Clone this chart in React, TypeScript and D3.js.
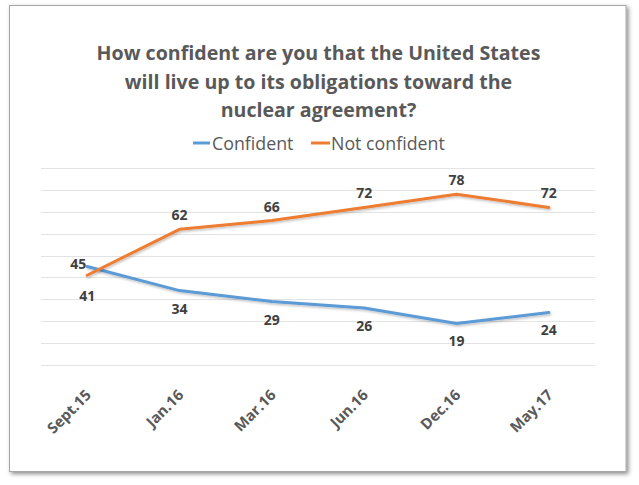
import React from "react";
import * as d3 from "d3";

const categories = ["Sept.15", "Jan.16", "Mar.16", "Jun.16", "Dec.16", "May.17"];
const confident = [45, 34, 29, 26, 19, 24];
const notConfident = [41, 62, 66, 72, 78, 72];
const yTicks = [0, 10, 20, 30, 40, 50, 60, 70, 80, 90];
const titleLines = [
  "How confident are you that the United States",
  "will live up to its obligations toward the",
  "nuclear agreement?",
];
const seriesNames = ["Confident", "Not confident"];
// label placement per point
const confidentPlacement = ["left", "below", "below", "below", "below", "below"];
const notConfidentPlacement = ["below", "above", "above", "above", "above", "above"];

const W = 639;
const H = 485;
const FONT = "'Open Sans', Lato, sans-serif";
const BLUE = "#5B9BD5";
const ORANGE = "#ED7D31";

export default function App() {
  const x = d3.scaleBand<string>().domain(categories).range([41, 595]).padding(0);
  const y = d3.scaleLinear().domain([0, 90]).range([365, 168]);
  const cx = (c: string) => (x(c) as number) + x.bandwidth() / 2;

  const line = d3
    .line<number>()
    .x((_, i) => cx(categories[i]))
    .y((d) => y(d));

  const labelPos = (i: number, v: number, place: string) => {
    const px = cx(categories[i]);
    const py = y(v);
    if (place === "above") return [px, py - 14.5];
    if (place === "below") return [px, py + (i === 0 ? 20 : 17.5)];
    return [px - 9, py - 3.5];
  };

  const series = [
    { name: seriesNames[0], data: confident, color: BLUE, place: confidentPlacement },
    { name: seriesNames[1], data: notConfident, color: ORANGE, place: notConfidentPlacement },
  ];

  return (
    <svg
      width={W}
      height={H}
      style={{ position: "absolute", left: 0, top: 0, background: "#fff" }}
      fontFamily={FONT}
    >
      <defs>
        <filter id="frameShadow" x="-5%" y="-5%" width="110%" height="110%">
          <feDropShadow dx="2" dy="2" stdDeviation="2" floodColor="#000" floodOpacity="0.45" />
        </filter>
        <filter id="lineShadow" x="-5%" y="-20%" width="110%" height="140%">
          <feDropShadow dx="1" dy="1.5" stdDeviation="1" floodColor="#000" floodOpacity="0.25" />
        </filter>
      </defs>
      <rect x={0} y={0} width={W} height={H} fill="#fff" />
      <rect
        x={9.5}
        y={5.5}
        width={616.5}
        height={466}
        fill="#fff"
        stroke="#a6a6a6"
        strokeWidth={1}
        filter="url(#frameShadow)"
      />

      {/* title */}
      {titleLines.map((t, i) => (
        <text
          key={i}
          x={318.5}
          y={60 + i * 28.5}
          textAnchor="middle"
          fontSize={19.6}
          fontWeight="bold"
          fill="#595959"
        >
          {t}
        </text>
      ))}

      {/* legend */}
      <line x1={193} x2={210} y1={143} y2={143} stroke={BLUE} strokeWidth={3} />
      <text x={212} y={149.5} fontSize={17.8} fill="#595959">
        {series[0].name}
      </text>
      <line x1={311} x2={330} y1={143} y2={143} stroke={ORANGE} strokeWidth={3} />
      <text x={331} y={149.5} fontSize={17.8} fill="#595959">
        {series[1].name}
      </text>

      {/* gridlines */}
      {yTicks.map((t) => (
        <line
          key={t}
          x1={41}
          x2={595}
          y1={Math.round(y(t)) + 0.5}
          y2={Math.round(y(t)) + 0.5}
          stroke="#e3e3e3"
          strokeWidth={1}
        />
      ))}

      {/* lines */}
      {series.map((s) => (
        <path
          key={s.name}
          d={line(s.data) as string}
          fill="none"
          stroke={s.color}
          strokeWidth={3}
          strokeLinejoin="round"
          strokeLinecap="round"
          filter="url(#lineShadow)"
        />
      ))}

      {/* data labels */}
      {series.map((s) =>
        s.data.map((v, i) => {
          const [lx, ly] = labelPos(i, v, s.place[i]);
          return (
            <text
              key={s.name + i}
              x={lx}
              y={ly}
              textAnchor="middle"
              dominantBaseline="central"
              fontSize={14}
              fontWeight="bold"
              fill="#404040"
            >
              {v}
            </text>
          );
        })
      )}

      {/* x axis labels */}
      {categories.map((c) => (
        <text
          key={c}
          transform={`translate(${cx(c) + 5},${396}) rotate(-45)`}
          textAnchor="end"
          fontSize={15}
          fontWeight="bold"
          fill="#595959"
        >
          {c}
        </text>
      ))}
    </svg>
  );
}
